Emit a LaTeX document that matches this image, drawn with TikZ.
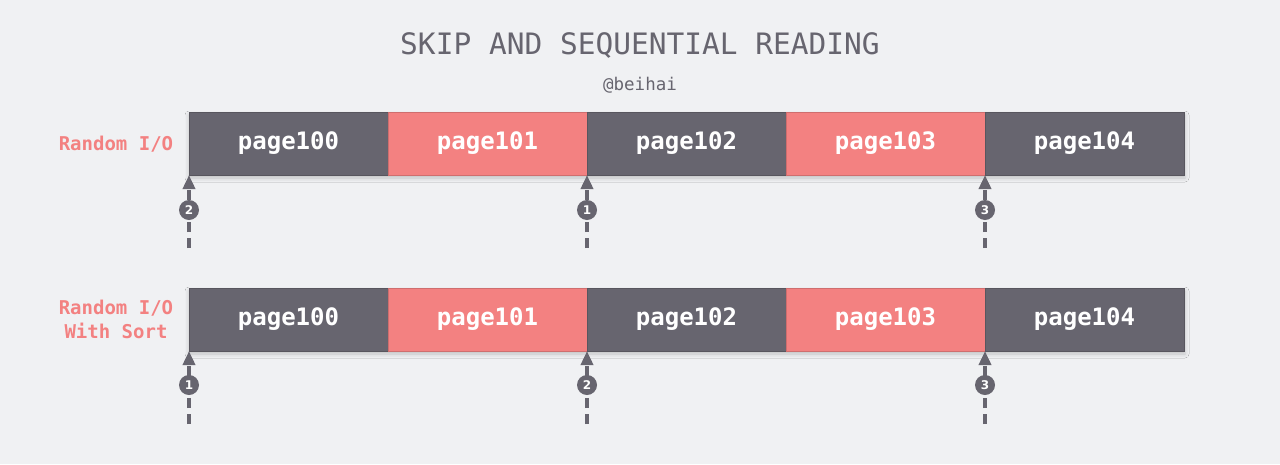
\documentclass[tikz,border=0pt]{standalone}
\usepackage{fontspec}
\setmonofont{DejaVu Sans Mono}
\setsansfont{DejaVu Sans}
\usetikzlibrary{arrows.meta,shadows.blur}
\definecolor{bg}{HTML}{F0F1F3}
\definecolor{darkbox}{HTML}{67656F}
\definecolor{pinkbox}{HTML}{F38181}
\definecolor{titlecol}{HTML}{67656F}
\tikzset{
  pagebox/.style={minimum width=199pt, minimum height=63pt, inner sep=0pt, outer sep=0pt,
    text=white, font=\ttfamily\bfseries\fontsize{24}{28}\selectfont},
  darkpage/.style={pagebox, fill=darkbox, draw=darkbox!85!black, line width=0.5pt},
  pinkpage/.style={pagebox, fill=pinkbox, draw=pinkbox!85!black, line width=0.5pt},
  rowshadow/.style={fill=bg, blur shadow={shadow xshift=0pt, shadow yshift=-3pt, shadow blur radius=4pt, shadow opacity=20}},
  rowlabel/.style={text=pinkbox, font=\ttfamily\bfseries\fontsize{19}{24}\selectfont, align=center},
  readarrow/.style={draw=darkbox, line width=4pt, dash pattern=on 10pt off 6pt,
    -{Triangle[width=12pt,length=14pt]}},
  stepnum/.style={circle, fill=darkbox, minimum size=20pt, inner sep=0pt, text=white,
    font=\sffamily\bfseries\fontsize{12}{13}\selectfont},
}
\begin{document}
\begin{tikzpicture}[x=1pt,y=-1pt]
\fill[bg] (0,0) rectangle (1280,464);
\useasboundingbox (0,0) rectangle (1280,464);
% title
\node[text=titlecol, font=\ttfamily\fontsize{29.5}{34}\selectfont] (title) at (640,45) {SKIP AND SEQUENTIAL READING};
\node[text=titlecol, font=\ttfamily\fontsize{17.5}{20}\selectfont] (author) at (640,85) {@beihai};
% row shadows
\path[rowshadow] (189,112) rectangle (1185,175);
\path[rowshadow] (189,288) rectangle (1185,351);
% top row
\node[rowlabel] (lab1) at (116,144) {Random I/O};
\node[darkpage] (a0) at (288.5,143.5) {page100};
\node[pinkpage] (a1) at (487.5,143.5) {page101};
\node[darkpage] (a2) at (686.5,143.5) {page102};
\node[pinkpage] (a3) at (885.5,143.5) {page103};
\node[darkpage] (a4) at (1084.5,143.5) {page104};
% bottom row
\node[rowlabel] (lab2) at (116,319) {Random I/O\\With Sort};
\node[darkpage] (b0) at (288.5,319.5) {page100};
\node[pinkpage] (b1) at (487.5,319.5) {page101};
\node[darkpage] (b2) at (686.5,319.5) {page102};
\node[pinkpage] (b3) at (885.5,319.5) {page103};
\node[darkpage] (b4) at (1084.5,319.5) {page104};
% top arrows
\coordinate (ta0) at (189,248);
\coordinate (ta2) at (587,248);
\coordinate (ta4) at (985,248);
\draw[readarrow] (ta0) -- (a0.south west);
\draw[readarrow] (ta2) -- (a2.south west);
\draw[readarrow] (ta4) -- (a4.south west);
\node[stepnum] (tn2) at (189,210) {2};
\node[stepnum] (tn1) at (587,210) {1};
\node[stepnum] (tn3) at (985,210) {3};
% bottom arrows
\coordinate (ba0) at (189,424);
\coordinate (ba2) at (587,424);
\coordinate (ba4) at (985,424);
\draw[readarrow] (ba0) -- (b0.south west);
\draw[readarrow] (ba2) -- (b2.south west);
\draw[readarrow] (ba4) -- (b4.south west);
\node[stepnum] (bn1) at (189,385) {1};
\node[stepnum] (bn2) at (587,385) {2};
\node[stepnum] (bn3) at (985,385) {3};
\end{tikzpicture}
\end{document}
